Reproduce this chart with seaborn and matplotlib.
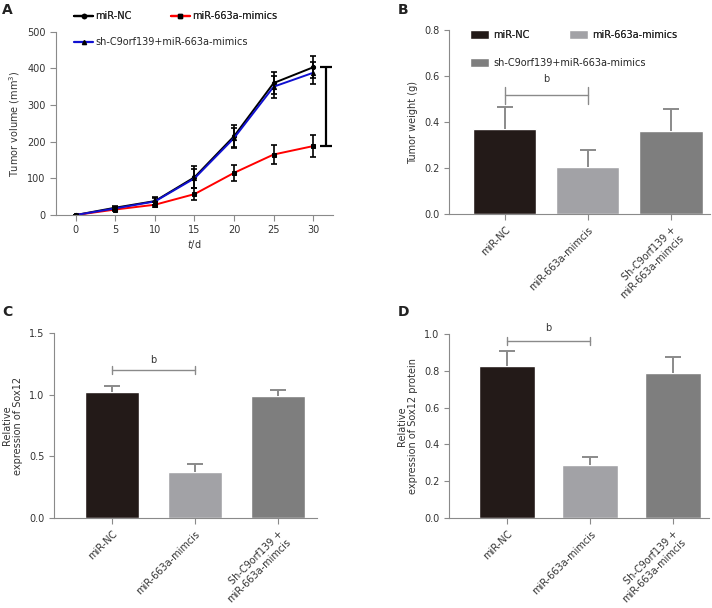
import numpy as np
import pandas as pd
import seaborn as sns
import matplotlib.pyplot as plt
from matplotlib.lines import Line2D
from matplotlib.patches import Patch
from matplotlib.ticker import FormatStrFormatter

# panel A: tumor volume over time
days = [0, 5, 10, 15, 20, 25, 30]
vol_nc = [0, 20, 38, 103, 215, 360, 403]
vol_nc_err = [0, 5, 10, 30, 30, 30, 30]
vol_mimics = [0, 15, 28, 57, 115, 165, 188]
vol_mimics_err = [0, 5, 7, 17, 22, 27, 30]
vol_sh = [0, 18, 37, 100, 210, 350, 388]
vol_sh_err = [0, 5, 9, 25, 28, 30, 30]

line_names = ["miR-NC", "miR-663a-mimics", "sh-C9orf139+miR-663a-mimics"]
line_colors = ["black", "#ff0000", "#1010d0"]
line_markers = ["o", "s", "^"]

# panels B-D: bar groups
bar_labels = ["miR-NC", "miR-663a-mimcis", "Sh-C9orf139 +\nmiR-663a-mimcis"]
bar_colors = ["#231a18", "#a2a2a6", "#7e7e7e"]

weight = [0.37, 0.205, 0.36]
weight_err = [0.097, 0.073, 0.095]

sox12_mrna = [1.025, 0.375, 0.99]
sox12_mrna_err = [0.045, 0.06, 0.045]

sox12_prot = [0.825, 0.29, 0.79]
sox12_prot_err = [0.082, 0.042, 0.085]

sns.set_style("ticks")
plt.rcParams["font.family"] = ["DejaVu Sans"]
plt.rcParams["font.size"] = 7
plt.rcParams["axes.edgecolor"] = "#8a8a8a"
plt.rcParams["xtick.color"] = "#8a8a8a"
plt.rcParams["ytick.color"] = "#8a8a8a"
plt.rcParams["xtick.labelcolor"] = "#333333"
plt.rcParams["ytick.labelcolor"] = "#333333"
plt.rcParams["axes.labelcolor"] = "#333333"

W, H = 712, 608
fig = plt.figure(figsize=(W / 100, H / 100), dpi=100)


def box(l, t, r, b):
    return [l / W, 1 - b / H, (r - l) / W, (b - t) / H]


axA = fig.add_axes(box(56, 31.7, 333, 215))
axB = fig.add_axes(box(449, 30, 710, 214))
axC = fig.add_axes(box(54, 333, 317, 518))
axD = fig.add_axes(box(449, 334, 709, 518))

# ---- A ----
df = pd.DataFrame({
    "day": days * 3,
    "volume": vol_nc + vol_mimics + vol_sh,
    "group": sum([[n] * len(days) for n in line_names], []),
})
sns.lineplot(data=df, x="day", y="volume", hue="group", style="group",
             palette=dict(zip(line_names, line_colors)),
             markers=dict(zip(line_names, line_markers)), dashes=False,
             markersize=3, mfc="black", mec="black", linewidth=1.4,
             legend=False, ax=axA)
for vals, errs in [(vol_sh, vol_sh_err), (vol_mimics, vol_mimics_err), (vol_nc, vol_nc_err)]:
    axA.errorbar(days, vals, yerr=errs, fmt="none", ecolor="black",
                 elinewidth=1.2, capsize=2, capthick=1.2)
# bracket between endpoints
axA.errorbar([31.6], [(vol_nc[-1] + vol_mimics[-1]) / 2],
             yerr=[(vol_nc[-1] - vol_mimics[-1]) / 2], fmt="none",
             ecolor="black", elinewidth=1.6, capsize=4, capthick=1.6, clip_on=False)
axA.set_xlim(-2.5, 32.5)
axA.set_ylim(0, 500)
axA.set_xticks(days)
axA.set_yticks([0, 100, 200, 300, 400, 500])
axA.set_xlabel("$t$/d", labelpad=2)
axA.set_ylabel("Tumor volume (mm$^3$)", labelpad=4)

hA = [Line2D([], [], color=c, marker=m, markersize=3, mfc="black", mec="black", lw=1.6)
      for c, m in zip(line_colors, line_markers)]
legA1 = fig.legend(hA[:2], line_names[:2], loc="center left", ncol=2,
                   bbox_to_anchor=(74 / W, 1 - 16 / H), frameon=False,
                   borderpad=0, borderaxespad=0, handlelength=2.0,
                   handletextpad=0.2, columnspacing=4.0, fontsize=7)
legA2 = fig.legend(hA[2:], line_names[2:], loc="center left",
                   bbox_to_anchor=(74 / W, 1 - 42 / H), frameon=False,
                   borderpad=0, borderaxespad=0, handlelength=2.0,
                   handletextpad=0.2, fontsize=7)
fig.add_artist(legA1)


def bar_panel(ax, vals, errs, width, ylim, yticks, fmt, ylabel, xlim, sig_y, tick_lo, tick_hi, b_y):
    sns.barplot(x=bar_labels, y=vals, hue=bar_labels, palette=bar_colors,
                width=width, legend=False, saturation=1, ax=ax)
    pos = np.arange(len(vals))
    eb = ax.errorbar(pos, vals, yerr=[np.zeros(len(vals)), errs], fmt="none",
                     ecolor="#8a8a8a", elinewidth=1.4, capsize=6, capthick=1.4)
    eb[1][0].set_visible(False)  # no cap at the bar top
    # significance bracket
    ax.plot([0, 1], [sig_y, sig_y], color="#8a8a8a", lw=1.0)
    ax.plot([0, 0], [tick_lo, tick_hi], color="#8a8a8a", lw=1.0)
    ax.plot([1, 1], [tick_lo, tick_hi], color="#8a8a8a", lw=1.0)
    ax.text(0.5, b_y, "b", ha="center", va="center", fontsize=7, color="#333333")
    ax.set_xlim(*xlim)
    ax.set_ylim(*ylim)
    ax.set_yticks(yticks)
    ax.yaxis.set_major_formatter(FormatStrFormatter(fmt))
    ax.set_ylabel(ylabel, labelpad=4)
    ax.set_xlabel("")
    ax.set_xticks(pos)
    ax.set_xticklabels(bar_labels, rotation=45, ha="right", rotation_mode="anchor",
                       linespacing=1.1)
    ax.tick_params(axis="x", length=4, pad=4)
    sns.despine(ax=ax)


bar_panel(axB, weight, weight_err, 0.76, (0, 0.8), [0, 0.2, 0.4, 0.6, 0.8], "%.1f",
          "Tumor weight (g)", (-0.67, 2.47), 0.517, 0.48, 0.552, 0.587)
bar_panel(axC, sox12_mrna, sox12_mrna_err, 0.65, (0, 1.5), [0, 0.5, 1.0, 1.5], "%.1f",
          "Relative\nexpression of Sox12", (-0.70, 2.47), 1.197, 1.165, 1.23, 1.28)
bar_panel(axD, sox12_prot, sox12_prot_err, 0.67, (0, 1.0), [0, 0.2, 0.4, 0.6, 0.8, 1.0], "%.1f",
          "Relative\nexpression of Sox12 protein", (-0.70, 2.43), 0.964, 0.94, 0.982, 1.03)

hB = [Patch(facecolor=c) for c in bar_colors]
namesB = ["miR-NC", "miR-663a-mimics", "sh-C9orf139+miR-663a-mimics"]
legB1 = fig.legend(hB[:2], namesB[:2], loc="center left", ncol=2,
                   bbox_to_anchor=(470 / W, 1 - 35 / H), frameon=False,
                   borderpad=0, borderaxespad=0, handlelength=2.0, handleheight=1.0,
                   handletextpad=0.4, columnspacing=4.0, fontsize=7)
legB2 = fig.legend(hB[2:], namesB[2:], loc="center left",
                   bbox_to_anchor=(470 / W, 1 - 63 / H), frameon=False,
                   borderpad=0, borderaxespad=0, handlelength=2.0, handleheight=1.0,
                   handletextpad=0.4, fontsize=7)
fig.add_artist(legB1)

sns.despine(ax=axA)
axA.tick_params(length=4)

for letter, x, y in [("A", 2, 14), ("B", 398, 14), ("C", 2, 316), ("D", 398, 316)]:
    fig.text(x / W, 1 - y / H, letter, fontsize=10, fontweight="bold", color="#222222")

fig.savefig("out.png", dpi=100)
